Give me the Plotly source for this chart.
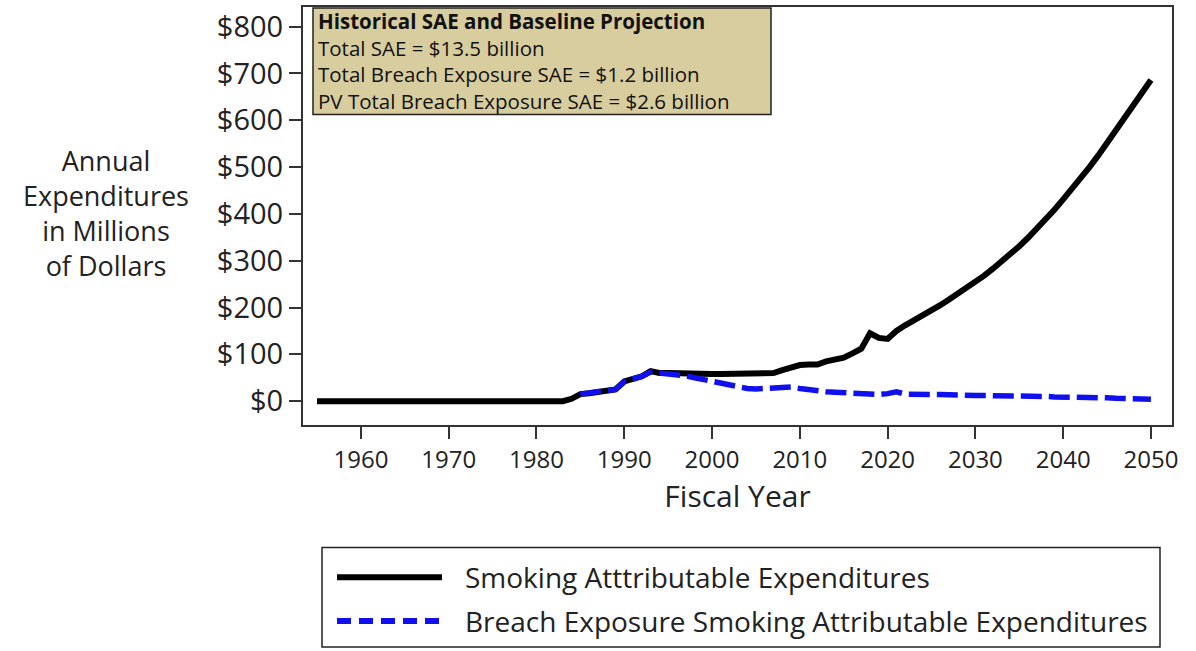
import plotly.graph_objects as go

years = list(range(1955, 2051))
sae = [0]*29 + [
    5, 15, 17, 19, 21, 25, 42, 47, 53, 64,        # 1984-1993
    60, 60, 59, 58, 58, 58, 58, 58, 58, 58,       # 1994-2003
    58, 59, 61, 60, 66, 73, 77, 78, 78, 85,       # 2004-2013
    89, 93, 102, 112, 145, 135, 133, 150, 162, 172,  # 2014-2023
    183, 194, 205, 217, 229, 242, 255, 268, 283, 298,  # 2024-2033
    314, 331, 349, 368, 388, 409, 431, 453, 476, 500,  # 2034-2043
    525, 551, 577, 603, 630, 658, 686                  # 2044-2050
]
breach_years = list(range(1985, 2051))
breach = [
    15, 17, 19, 21, 25, 42, 47, 53, 62, 60,       # 1985-1994
    60, 58, 54, 50, 46, 41, 37, 33, 29, 27,       # 1995-2004
    26, 27, 28, 31, 30, 27, 24, 22, 20, 19,       # 2005-2014
    18, 17, 16, 15, 14, 16, 20, 15, 14, 14,       # 2015-2024
    14, 14, 13, 13, 13, 12, 12, 12, 11, 11,       # 2025-2034
    11, 10, 10, 10, 9, 9, 9, 8, 8, 7,             # 2035-2044
    7, 6, 6, 5, 5, 4                              # 2045-2050
]
x_ticks = list(range(1960, 2051, 10))
y_ticks = list(range(0, 801, 100))
y_ticktext = ["$" + str(v) for v in y_ticks]
series_names = ["Smoking Atttributable Expenditures",
                "Breach Exposure Smoking Attributable Expenditures"]
box_lines = ["<b>Historical SAE and Baseline Projection</b>",
             "Total SAE = $13.5 billion",
             "Total Breach Exposure SAE = $1.2 billion",
             "PV Total Breach Exposure SAE = $2.6 billion"]
ytitle_lines = ["Annual", "Expenditures", "in Millions", "of Dollars"]

FONT = "Open Sans"
TXT = "#222"
fig = go.Figure()
fig.add_trace(go.Scatter(x=years, y=sae, mode="lines", name=series_names[0],
                         line=dict(color="black", width=6), showlegend=False))
fig.add_trace(go.Scatter(x=breach_years, y=breach, mode="lines", name=series_names[1],
                         line=dict(color="#1010ee", width=5.5, dash="21px,7px"), showlegend=False))

W, H = 1196, 651
L, R, T, B = 303, 24, 5, 226
pw, ph = W - L - R, H - T - B

def px(x):
    return (x - L) / pw

def py(y):
    return (H - B - y) / ph

fig.update_layout(
    width=W, height=H,
    margin=dict(l=L, r=R, t=T, b=B),
    paper_bgcolor="white", plot_bgcolor="white",
    font=dict(family=FONT, color=TXT),
    xaxis=dict(range=[1953.4, 2052.4], tickvals=x_ticks, ticks="outside", ticklen=12,
               tickwidth=1.5, tickcolor="#333", showgrid=False, zeroline=False, showline=True,
               linecolor="#333", linewidth=2, mirror=True,
               tickfont=dict(size=24, family=FONT, color=TXT),
               title=dict(text="Fiscal Year", font=dict(size=30, family=FONT, color=TXT), standoff=12)),
    yaxis=dict(range=[-51, 842], tickvals=y_ticks, ticktext=y_ticktext, ticks="outside", ticklen=12,
               tickwidth=1.5, tickcolor="#333", showgrid=False, zeroline=False, showline=True,
               linecolor="#333", linewidth=2, mirror=True,
               tickfont=dict(size=29, family=FONT, color=TXT)),
)

# Y-axis title
fig.add_annotation(xref="paper", yref="paper", x=px(106), y=py(212),
                   text="<br>".join(ytitle_lines), showarrow=False, align="center",
                   xanchor="center", yanchor="middle",
                   font=dict(size=27, family=FONT, color=TXT))

# Info box: rectangle + one multi-line text
fig.add_shape(type="rect", xref="paper", yref="paper",
              x0=px(313), x1=px(771), y0=py(6), y1=py(113),
              line=dict(color="#222", width=1.5), fillcolor="#d8cd9e", layer="above")
fig.add_annotation(xref="paper", yref="paper", x=px(316), y=py(59),
                   text="<br>".join(box_lines), showarrow=False, align="left",
                   xanchor="left", yanchor="middle",
                   font=dict(size=20.5, family=FONT, color="#111"))

# Manual legend
fig.add_shape(type="rect", xref="paper", yref="paper",
              x0=px(322), x1=px(1160), y0=py(548), y1=py(648),
              line=dict(color="#222", width=1.5), fillcolor="white")
fig.add_shape(type="line", xref="paper", yref="paper",
              x0=px(337), x1=px(442), y0=py(578), y1=py(578),
              line=dict(color="black", width=6))
fig.add_shape(type="line", xref="paper", yref="paper",
              x0=px(337), x1=px(442), y0=py(622), y1=py(622),
              line=dict(color="#1010ee", width=6, dash="14px,8px"))
for name, yy in zip(series_names, [578, 622]):
    fig.add_annotation(xref="paper", yref="paper", x=px(463), y=py(yy), text=name,
                       showarrow=False, xanchor="left", yanchor="middle",
                       font=dict(size=28, family=FONT, color=TXT))

fig.write_html("out.html", config={"displayModeBar": False},
               post_script="document.body.style.margin='0px';")
